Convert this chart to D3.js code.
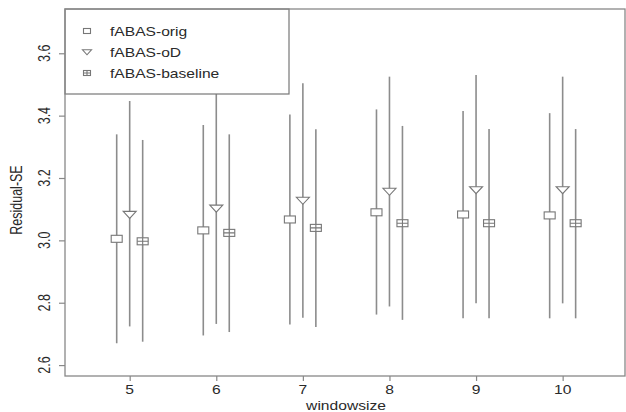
<!DOCTYPE html>
<html lang="en">
<head>
    <meta charset="UTF-8">
    <title>Residual-SE by windowsize</title>
    <script src="https://d3js.org/d3.v7.min.js"></script>
    <style>
        body { margin: 0; background: #fff; }
        text { font-family: "Liberation Sans", Arial, sans-serif; fill: #2a2a2a; }
        .bar { stroke: #8c8c8c; stroke-width: 1.6px; }
        .pt { fill: #fff; stroke: #777; stroke-width: 1.1px; }
    </style>
</head>
<body>
    <svg id="chart" width="626" height="412"></svg>
    <script>
        const windowsizes = [5, 6, 7, 8, 9, 10];
        const series = ["fABAS-orig", "fABAS-oD", "fABAS-baseline"];

        // mean, lower, upper per windowsize
        const origMean = [3.005, 3.032, 3.067, 3.090, 3.083, 3.080];
        const origLow = [2.670, 2.695, 2.730, 2.762, 2.750, 2.750];
        const origHigh = [3.340, 3.370, 3.404, 3.420, 3.415, 3.408];

        const odMean = [3.083, 3.103, 3.128, 3.157, 3.162, 3.162];
        const odLow = [2.724, 2.732, 2.752, 2.788, 2.798, 2.798];
        const odHigh = [3.447, 3.470, 3.504, 3.525, 3.530, 3.525];

        const baseMean = [2.997, 3.024, 3.040, 3.055, 3.055, 3.055];
        const baseLow = [2.675, 2.706, 2.722, 2.745, 2.750, 2.750];
        const baseHigh = [3.322, 3.340, 3.356, 3.367, 3.357, 3.357];

        const yTicks = [2.6, 2.8, 3.0, 3.2, 3.4, 3.6];

        const plotLeft = 65, plotRight = 625, plotTop = 9, plotBottom = 376;
        const stretch = 1.25; // the picture is wider than the font: stretch text horizontally
        const svg = d3.select("#chart");

        const x = d3.scaleLinear().domain([4.253, 10.72]).range([plotLeft, plotRight]);
        const y = d3.scaleLinear().domain([2.565, 3.742]).range([plotBottom, plotTop]);

        const groups = [
            { name: series[0], shift: -0.15, mean: origMean, low: origLow, high: origHigh, sym: "square" },
            { name: series[1], shift: 0, mean: odMean, low: odLow, high: odHigh, sym: "triangle" },
            { name: series[2], shift: 0.15, mean: baseMean, low: baseLow, high: baseHigh, sym: "squareplus" }
        ];

        function drawSymbol(g, sym, cx, cy, w, h) {
            if (sym === "triangle") {
                g.append("path").attr("class", "pt")
                    .attr("d", `M${cx - w / 2},${cy - h * 0.45}L${cx + w / 2},${cy - h * 0.45}L${cx},${cy + h * 0.55}Z`);
            } else {
                g.append("rect").attr("class", "pt")
                    .attr("x", cx - w / 2).attr("y", cy - h / 2)
                    .attr("width", w).attr("height", h);
                if (sym === "squareplus") {
                    g.append("path").attr("class", "pt")
                        .attr("d", `M${cx - w / 2},${cy}H${cx + w / 2}M${cx},${cy - h / 2}V${cy + h / 2}`);
                }
            }
        }

        // text placed at (tx,ty), stretched horizontally, optional rotation
        function label(g, tx, ty, str, anchor, rot) {
            return g.append("text")
                .attr("transform", `translate(${tx},${ty}) scale(${stretch},1)` + (rot ? ` rotate(${rot})` : ""))
                .attr("text-anchor", anchor)
                .attr("font-size", 12.5)
                .text(str);
        }

        const plot = svg.append("g");
        groups.forEach(s => {
            windowsizes.forEach((w, i) => {
                const px = x(w + s.shift);
                plot.append("line").attr("class", "bar")
                    .attr("x1", px).attr("x2", px)
                    .attr("y1", y(s.low[i])).attr("y2", y(s.high[i]));
            });
        });
        groups.forEach(s => {
            windowsizes.forEach((w, i) => {
                const w0 = s.sym === "triangle" ? 13 : 11;
                drawSymbol(plot, s.sym, x(w + s.shift), y(s.mean[i]), w0, 7);
            });
        });

        // legend with white background, drawn over the bars
        const lg = svg.append("g");
        lg.append("rect")
            .attr("x", plotLeft).attr("y", plotTop)
            .attr("width", 224).attr("height", 85)
            .attr("fill", "#fff").attr("stroke", "#777").attr("stroke-width", 1.2);
        groups.forEach((s, i) => {
            const ly = 31 + i * 21;
            drawSymbol(lg, s.sym, 87, ly, s.sym === "triangle" ? 9 : 7, 5);
            label(lg, 110, ly + 4.5, s.name, "start");
        });

        // frame
        svg.append("rect")
            .attr("x", plotLeft).attr("y", plotTop)
            .attr("width", plotRight - plotLeft).attr("height", plotBottom - plotTop)
            .attr("fill", "none").attr("stroke", "#888").attr("stroke-width", 1.3);

        // x axis
        const xAxis = svg.append("g").attr("transform", `translate(0,${plotBottom})`)
            .call(d3.axisBottom(x).tickValues(windowsizes).tickSize(5).tickFormat(""));
        xAxis.select(".domain").remove();
        xAxis.selectAll("line").attr("stroke", "#888").attr("stroke-width", 1.2);
        windowsizes.forEach(w => label(svg, x(w), 394, d3.format("d")(w), "middle"));

        // y axis
        const yAxis = svg.append("g").attr("transform", `translate(${plotLeft},0)`)
            .call(d3.axisLeft(y).tickValues(yTicks).tickSize(6).tickFormat(""));
        yAxis.select(".domain").remove();
        yAxis.selectAll("line").attr("stroke", "#888").attr("stroke-width", 1.2);
        yTicks.forEach(t => label(svg, 50, y(t), d3.format(".1f")(t), "middle", -90));

        label(svg, 346, 410, "windowsize", "middle");
        label(svg, 22, 200, "Residual-SE", "middle", -90);
    </script>
</body>
</html>
